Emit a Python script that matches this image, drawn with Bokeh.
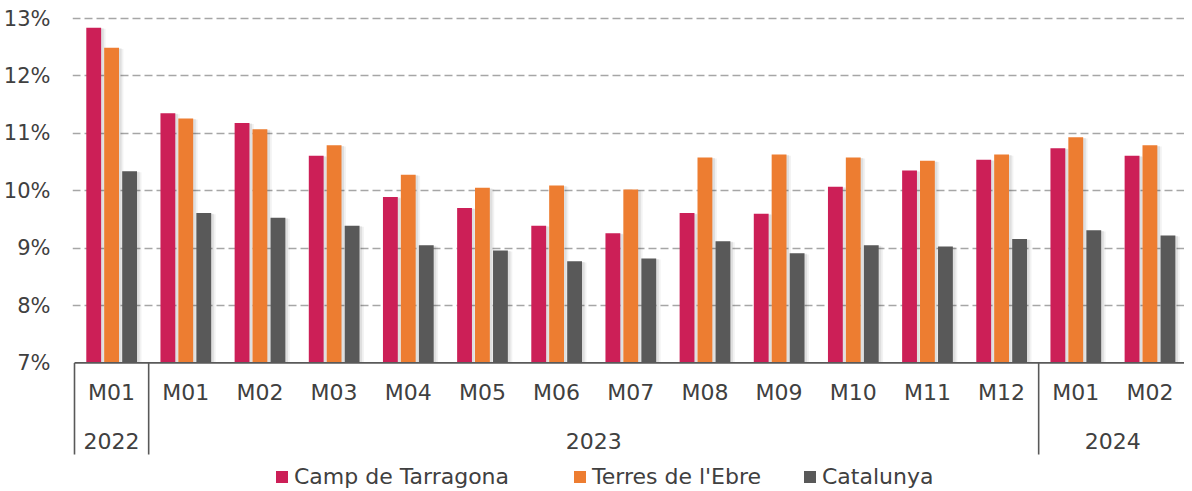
from bokeh.plotting import figure
from bokeh.models import Range1d, FixedTicker, Legend, LegendItem
from bokeh.core.properties import value
from bokeh.embed import file_html
from bokeh.resources import INLINE

# ---------------- data ----------------
years = ["2022"] + ["2023"] * 12 + ["2024"] * 2
months = ["M01", "M01", "M02", "M03", "M04", "M05", "M06", "M07",
          "M08", "M09", "M10", "M11", "M12", "M01", "M02"]
camp = [12.84, 11.35, 11.18, 10.61, 9.89, 9.70, 9.39, 9.26,
        9.61, 9.60, 10.07, 10.35, 10.54, 10.74, 10.61]
terres = [12.49, 11.26, 11.07, 10.79, 10.28, 10.05, 10.09, 10.02,
          10.58, 10.63, 10.58, 10.52, 10.63, 10.93, 10.79]
catalunya = [10.34, 9.61, 9.53, 9.39, 9.05, 8.96, 8.77, 8.82,
             9.12, 8.91, 9.05, 9.03, 9.16, 9.31, 9.22]
series_names = ["Camp de Tarragona", "Terres de l'Ebre", "Catalunya"]
series_values = [camp, terres, catalunya]
y_ticks = [7, 8, 9, 10, 11, 12, 13]
y_tick_labels = ["7%", "8%", "9%", "10%", "11%", "12%", "13%"]

# ---------------- style ----------------
colors = ["#CC1F57", "#ED7D31", "#595959"]
FONT = "DejaVu Sans"
TXT = "#404040"
offsets = [-0.241, 0.0, 0.243]
bar_w = 0.2
month_y = 6.476
year_y = 5.648
axis_bottom = 5.404
legend_x = [202, 500, 730]

n = len(months)
xc = [i + 0.5 for i in range(n)]
base = y_ticks[0]

W = 1184
H = 490
PX_PER_CAT = 74.7
x_start = -0.027
x_end = x_start + (W - 64) / PX_PER_CAT
y_top = 13.3136
y_bot = y_top - H / 57.4

p = figure(width=W, height=H,
           x_range=Range1d(x_start, x_end), y_range=Range1d(y_bot, y_top),
           x_axis_location=None, toolbar_location=None, output_backend="svg",
           min_border_left=64, min_border_right=0, min_border_top=0, min_border_bottom=0)
p.outline_line_color = None
p.background_fill_color = "white"
p.border_fill_color = "white"

# grid
p.xgrid.visible = False
p.ygrid.ticker = FixedTicker(ticks=y_ticks[1:])
p.ygrid.grid_line_color = "#A6A6A6"
p.ygrid.grid_line_dash = "8 4"
p.ygrid.grid_line_width = 1.6

# y axis
p.yaxis.ticker = FixedTicker(ticks=y_ticks)
p.yaxis.major_label_overrides = {t: l for t, l in zip(y_ticks, y_tick_labels)}
p.yaxis.axis_line_color = None
p.yaxis.major_tick_line_color = None
p.yaxis.minor_tick_line_color = None
p.yaxis.major_label_standoff = 16
p.yaxis.major_label_text_font = FONT
p.yaxis.major_label_text_font_size = "21px"
p.yaxis.major_label_text_color = TXT

# shadows + bars
renderers = []
for vals, off, col in zip(series_values, offsets, colors):
    xs = [x + off for x in xc]
    p.vbar(x=[x + 0.06 for x in xs], top=[v - 0.02 for v in vals], bottom=base,
           width=bar_w, fill_color="black", fill_alpha=0.05, line_color=None)
    p.vbar(x=[x + 0.035 for x in xs], top=[v - 0.01 for v in vals], bottom=base,
           width=bar_w, fill_color="black", fill_alpha=0.08, line_color=None)
for vals, off, col in zip(series_values, offsets, colors):
    xs = [x + off for x in xc]
    r = p.vbar(x=xs, top=vals, bottom=base, width=bar_w,
               fill_color=col, line_color=None)
    renderers.append(r)

# category axis (baseline, separators, labels)
p.segment(x0=[0], y0=[base], x1=[n], y1=[base], line_color="#595959", line_width=1.8)
bounds = [0] + [i for i in range(1, n) if years[i] != years[i - 1]]
p.segment(x0=bounds, y0=[base] * len(bounds), x1=bounds, y1=[axis_bottom] * len(bounds),
          line_color="#595959", line_width=1.6)
p.text(x=xc, y=[month_y] * n, text=months, text_align="center", text_baseline="middle",
       text_font=value(FONT), text_font_size=value("22px"), text_color=TXT)
ends = bounds[1:] + [n]
year_names = [years[b] for b in bounds]
year_x = [(a + b) / 2 for a, b in zip(bounds, ends)]
p.text(x=year_x, y=[year_y] * len(year_x), text=year_names, text_align="center",
       text_baseline="middle", text_font=value(FONT), text_font_size=value("22px"),
       text_color=TXT)

# legends (one per series, positioned individually)
for name, r, lx in zip(series_names, renderers, legend_x):
    leg = Legend(items=[LegendItem(label=name, renderers=[r])], location=(lx, 1),
                 orientation="horizontal", glyph_width=15, glyph_height=15,
                 label_standoff=5, padding=0, margin=0, border_line_color=None,
                 background_fill_alpha=0, label_text_font=FONT,
                 label_text_font_size="22px", label_text_color=TXT)
    p.add_layout(leg)

open("out.html", "w").write(file_html(p, INLINE))
